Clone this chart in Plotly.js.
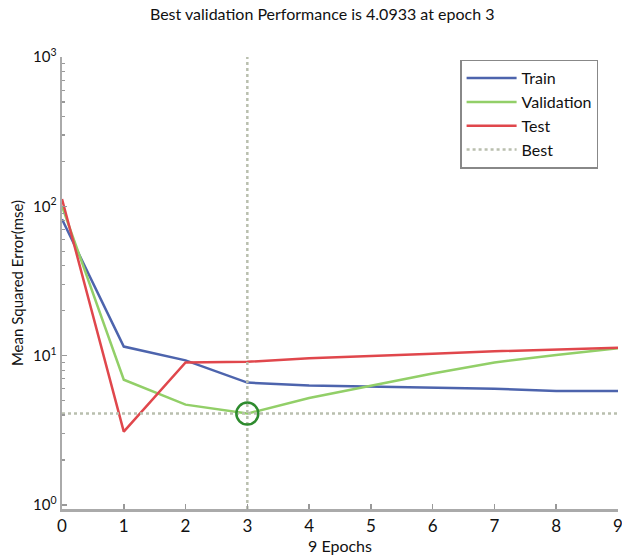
<!DOCTYPE html>
<html>
<head>
<meta charset="utf-8">
<script src="https://cdn.plot.ly/plotly-3.0.1.min.js"></script>
<style>html,body{margin:0;padding:0;background:#fff}#chart{width:622px;height:559px}</style>
</head>
<body>
<div id="chart"></div>
<script>
// Data
const epochs = [0, 1, 2, 3, 4, 5, 6, 7, 8, 9];
const trainMSE = [82, 11.5, 9.3, 6.6, 6.3, 6.2, 6.1, 6.0, 5.8, 5.8];
const validationMSE = [100, 6.9, 4.7, 4.0933, 5.2, 6.3, 7.6, 9.0, 10.1, 11.2];
const testMSE = [112, 3.1, 9.0, 9.1, 9.6, 10.0, 10.3, 10.7, 11.0, 11.3];
const bestEpoch = 3;
const bestValue = 4.0933;
const yTickVals = [1, 10, 100, 1000];
const yTickText = ['10<sup>0</sup>', '10<sup>1</sup>', '10<sup>2</sup>', '10<sup>3</sup>'];
const xTickVals = [0, 1, 2, 3, 4, 5, 6, 7, 8, 9];

const minorVals = [];
for (let d = 1; d <= 100; d *= 10) for (let k = 2; k <= 9; k++) minorVals.push(k * d);

const yLo = 0.94, yHi = 1000;

const traces = [
  {x: epochs, y: trainMSE, name: 'Train', mode: 'lines', line: {color: '#4d64ad', width: 2.5}},
  {x: epochs, y: validationMSE, name: 'Validation', mode: 'lines', line: {color: '#92cf68', width: 2.5}},
  {x: epochs, y: testMSE, name: 'Test', mode: 'lines', line: {color: '#e0474c', width: 2.5}},
  {x: [epochs[0], epochs[epochs.length - 1], null, bestEpoch, bestEpoch],
   y: [bestValue, bestValue, null, yLo, yHi],
   name: 'Best', mode: 'lines', line: {color: '#b9bfae', width: 2.5, dash: 'dot'}},
  {x: [bestEpoch], y: [bestValue], mode: 'markers', showlegend: false, hoverinfo: 'skip',
   marker: {symbol: 'circle-open', size: 22, color: '#2e8b2e', line: {width: 2.5, color: '#2e8b2e'}}}
];

const font = 'Lato, "Open Sans", sans-serif';
const layout = {
  width: 622, height: 559,
  margin: {l: 62, r: 4, t: 57, b: 50},
  paper_bgcolor: '#fff', plot_bgcolor: '#fff',
  font: {family: font, color: '#111', size: 14},
  title: {text: 'Best validation Performance is 4.0933 at epoch 3', font: {size: 16, family: font, color: '#111'},
          x: 0.518, xref: 'container', xanchor: 'center', y: 0.975, yref: 'container', yanchor: 'middle'},
  xaxis: {
    range: [0, 9], tickvals: xTickVals, ticktext: xTickVals.map(String),
    showgrid: false, zeroline: false, showline: true, linecolor: '#aaaaaa', linewidth: 2.5,
    ticks: 'inside', ticklen: 5, tickcolor: '#999', tickwidth: 1.5, ticklabeloverflow: 'allow',
    tickfont: {size: 17, family: font, color: '#111'},
    title: {text: '9 Epochs', font: {size: 16, family: font, color: '#111'}, standoff: 4}
  },
  yaxis: {
    type: 'log', range: [Math.log10(yLo), 3], tickvals: yTickVals, ticktext: yTickText,
    showgrid: false, zeroline: false, showline: true, linecolor: '#aaaaaa', linewidth: 2.5,
    ticks: 'inside', ticklen: 5, tickcolor: '#999', tickwidth: 1.5, ticklabeloverflow: 'allow',
    tickfont: {size: 15, family: font, color: '#111'},
    minor: {tickvals: minorVals, ticks: 'inside', ticklen: 3, tickcolor: '#999', tickwidth: 1.2, showgrid: false},
    title: {text: 'Mean Squared Error(mse)', font: {size: 15, family: font, color: '#111'}, standoff: 6}
  },
  legend: {
    x: 0.716, y: 0.994, xanchor: 'left', yanchor: 'top',
    bgcolor: '#fff', bordercolor: '#888', borderwidth: 1.5,
    font: {size: 16, family: font, color: '#111'},
    tracegroupgap: 0, itemwidth: 50
  },
  showlegend: true
};

Plotly.newPlot('chart', traces, layout, {staticPlot: true, displayModeBar: false});
</script>
</body>
</html>
